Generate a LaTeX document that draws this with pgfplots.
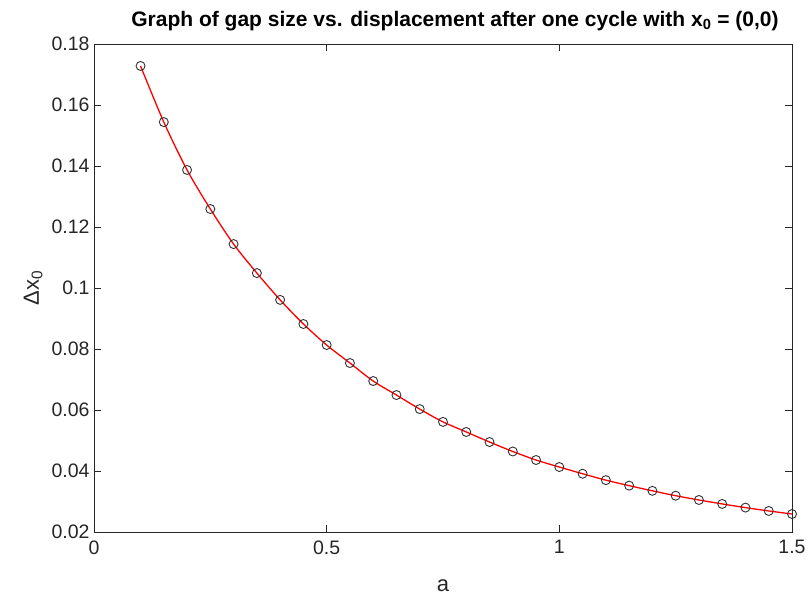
\documentclass[border=0pt]{standalone}
\usepackage{fontspec}
\setmainfont{Liberation Sans}
\usepackage{pgfplots}
\pgfplotsset{compat=1.18}
\definecolor{axgray}{gray}{0.15}
\begin{document}
\begin{tikzpicture}[x=1pt,y=1pt]
\begin{axis}[
  scale only axis, width=698pt, height=488pt,
  xmin=0, xmax=1.5, ymin=0.02, ymax=0.18,
  xtick={0,0.5,1,1.5}, ytick={0.02,0.04,...,0.18},
  tick align=inside, major tick length=7pt,
  axis line style={axgray, line width=0.6pt},
  tick style={axgray, line width=0.6pt},
  /pgf/number format/assume math mode=true,
  /pgf/number format/fixed, /pgf/number format/precision=2,
  ticklabel style={font=\fontsize{19.5}{21}\selectfont, text=axgray},
  xticklabel style={yshift=-5pt},
  yticklabel style={xshift=-1pt},
  label style={font=\fontsize{22}{24}\selectfont, text=axgray},
  xlabel={a}, ylabel={Δx\textsubscript{0}},
  xlabel style={yshift=-18pt},
  ylabel style={yshift=2pt},
  title={\bfseries Graph of gap size vs. displacement after one cycle with x\textsubscript{0} = (0,0)},
  title style={font=\fontsize{21}{23}\selectfont, yshift=4pt, xshift=12pt},
]
\addplot[red, line width=1.3pt, smooth, no markers] table {
x y
0.10 0.1728
0.15 0.1544
0.20 0.1387
0.25 0.1259
0.30 0.1144
0.35 0.1049
0.40 0.0961
0.45 0.0882
0.50 0.0813
0.55 0.0754
0.60 0.0695
0.65 0.0649
0.70 0.0603
0.75 0.0561
0.80 0.0528
0.85 0.0495
0.90 0.0464
0.95 0.0436
1.00 0.0413
1.05 0.0391
1.10 0.0370
1.15 0.0352
1.20 0.0335
1.25 0.0319
1.30 0.0305
1.35 0.0292
1.40 0.0280
1.45 0.0269
1.50 0.0259
};
\addplot[only marks, mark=o, mark size=4.5pt, mark options={black!80, line width=0.9pt}] table {
x y
0.10 0.1728
0.15 0.1544
0.20 0.1387
0.25 0.1259
0.30 0.1144
0.35 0.1049
0.40 0.0961
0.45 0.0882
0.50 0.0813
0.55 0.0754
0.60 0.0695
0.65 0.0649
0.70 0.0603
0.75 0.0561
0.80 0.0528
0.85 0.0495
0.90 0.0464
0.95 0.0436
1.00 0.0413
1.05 0.0391
1.10 0.0370
1.15 0.0352
1.20 0.0335
1.25 0.0319
1.30 0.0305
1.35 0.0292
1.40 0.0280
1.45 0.0269
1.50 0.0259
};
\end{axis}
\path (-94pt,-65pt) rectangle (715pt,532pt);
\end{tikzpicture}
\end{document}
